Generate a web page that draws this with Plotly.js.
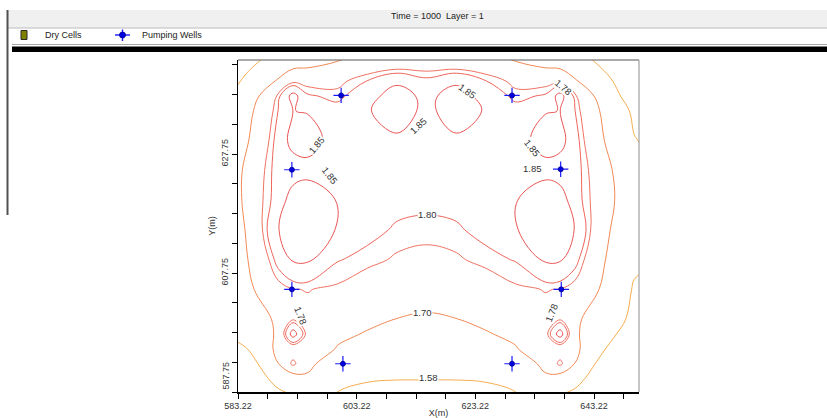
<!DOCTYPE html>
<html>
<head>
<meta charset="utf-8">
<script src="https://cdn.plot.ly/plotly-3.0.1.min.js"></script>
<style>
  html, body { margin: 0; padding: 0; background: #ffffff; }
  #chart { width: 827px; height: 418px; }
</style>
</head>
<body>
<div id="chart"></div>
<script>
// ---------------- data ----------------
const chartTitle = "Time = 1000  Layer = 1";
const legendLabels = ["Dry Cells", "Pumping Wells"];

// grid node coordinates (m)
const xNodes = [580, 585, 590, 592.5, 595, 600, 605, 610, 615, 620, 625, 630, 635, 637.5, 640, 645, 650, 655];
const yNodes = [585, 590, 592.5, 595, 597.5, 600, 605, 610, 615, 620, 625, 630, 635, 637.5, 640, 645];

// head values, one row per y node (south to north)
const head585  = [1.42, 1.46, 1.50, 1.53, 1.60, 1.555, 1.545, 1.54, 1.54, 1.54, 1.545, 1.555, 1.60, 1.53, 1.50, 1.46, 1.42, 1.40];
const head590  = [1.46, 1.50, 1.62, 1.65, 1.69, 1.60, 1.585, 1.582, 1.582, 1.582, 1.585, 1.60, 1.69, 1.65, 1.62, 1.50, 1.46, 1.43];
const head5925 = [1.50, 1.525, 1.698, 1.795, 1.715, 1.66, 1.625, 1.62, 1.615, 1.62, 1.625, 1.66, 1.715, 1.795, 1.698, 1.525, 1.50, 1.47];
const head595  = [1.55, 1.582, 1.725, 1.74, 1.75, 1.695, 1.665, 1.655, 1.65, 1.655, 1.665, 1.695, 1.75, 1.74, 1.725, 1.582, 1.54, 1.50];
const head5975 = [1.575, 1.59, 1.72, 1.88, 1.76, 1.715, 1.695, 1.68, 1.675, 1.68, 1.695, 1.715, 1.76, 1.88, 1.72, 1.59, 1.565, 1.52];
const head600  = [1.57, 1.60, 1.73, 1.775, 1.772, 1.74, 1.715, 1.699, 1.69, 1.699, 1.715, 1.74, 1.772, 1.775, 1.73, 1.60, 1.572, 1.53];
const head605  = [1.56, 1.685, 1.765, 1.779, 1.781, 1.775, 1.753, 1.74, 1.735, 1.74, 1.753, 1.775, 1.781, 1.779, 1.765, 1.685, 1.57, 1.55];
const head610  = [1.55, 1.703, 1.815, 1.856, 1.858, 1.802, 1.791, 1.775, 1.77, 1.775, 1.791, 1.802, 1.858, 1.856, 1.815, 1.703, 1.60, 1.575];
const head615  = [1.555, 1.72, 1.848, 1.885, 1.88, 1.847, 1.81, 1.796, 1.79, 1.796, 1.81, 1.847, 1.88, 1.885, 1.848, 1.72, 1.615, 1.585];
const head620  = [1.55, 1.744, 1.818, 1.88, 1.875, 1.848, 1.82, 1.81, 1.81, 1.81, 1.82, 1.848, 1.875, 1.88, 1.818, 1.744, 1.615, 1.585];
const head625  = [1.57, 1.735, 1.818, 1.82, 1.838, 1.832, 1.835, 1.83, 1.83, 1.83, 1.835, 1.832, 1.838, 1.82, 1.818, 1.735, 1.60, 1.57];
const head630  = [1.56, 1.699, 1.817, 1.87, 1.865, 1.835, 1.845, 1.84, 1.835, 1.84, 1.845, 1.835, 1.865, 1.87, 1.817, 1.699, 1.585, 1.545];
const head635  = [1.56, 1.68, 1.801, 1.8505, 1.848, 1.815, 1.845, 1.88, 1.835, 1.88, 1.845, 1.815, 1.848, 1.8505, 1.801, 1.68, 1.56, 1.52];
const head6375 = [1.53, 1.65, 1.79, 1.87, 1.805, 1.79, 1.83, 1.875, 1.835, 1.875, 1.83, 1.79, 1.805, 1.87, 1.79, 1.65, 1.52, 1.48];
const head640  = [1.50, 1.61, 1.71, 1.77, 1.765, 1.77, 1.801, 1.84, 1.81, 1.84, 1.801, 1.77, 1.765, 1.77, 1.71, 1.61, 1.50, 1.45];
const head645  = [1.45, 1.52, 1.60, 1.60, 1.62, 1.665, 1.71, 1.69, 1.72, 1.69, 1.71, 1.665, 1.62, 1.60, 1.60, 1.52, 1.45, 1.40];

// contour levels drawn
const contourLevels = [1.58, 1.70, 1.78, 1.80, 1.85];

// pumping wells
const wellX = [600.6, 629.4, 592.3, 637.6, 592.3, 637.7, 600.9, 629.4];
const wellY = [637.6, 637.6, 625.1, 625.2, 605.0, 605.0, 592.5, 592.5];

// axis ticks
const xTickVals = [583.22, 603.22, 623.22, 643.22];
const yTickVals = [587.75, 607.75, 627.75];
const xRange = [583.22, 650.8];
const yRange = [587.75, 643.55];

// ---------------- styles ----------------
const levelColors = ["#f6ae4e", "#f18a55", "#ef7262", "#ed655b", "#eb5555"];
const FONT = "Liberation Sans, Arial, sans-serif";

const headGrid = [head585, head590, head5925, head595, head5975, head600, head605, head610,
                  head615, head620, head625, head630, head635, head6375, head640, head645];

const traces = contourLevels.map((lv, i) => ({
  type: "contour",
  x: xNodes,
  y: yNodes,
  z: headGrid,
  autocontour: false,
  contours: { start: lv, end: lv, size: 0.01, coloring: "none", showlabels: false },
  line: { color: levelColors[i], width: 1, smoothing: 1.1 },
  showscale: false,
  showlegend: false,
  hoverinfo: "skip"
}));

traces.push({
  type: "scatter", mode: "markers", x: wellX, y: wellY,
  marker: { symbol: "cross-thin-open", size: 11, color: "#1a1aff", line: { color: "#1a1aff", width: 1.2 } },
  showlegend: false, hoverinfo: "skip"
});
traces.push({
  type: "scatter", mode: "markers", x: wellX, y: wellY,
  marker: { symbol: "circle", size: 5, color: "#0000e0", line: { color: "#000090", width: 0.8 } },
  showlegend: false, hoverinfo: "skip"
});

// pixel -> paper / data helpers for page furniture and label placement
const PL = 238, PR = 639, PT = 60, PB = 392;
const fx = px => (px - PL) / (PR - PL);
const fy = py => (PB - py) / (PB - PT);
const dx = px => xRange[0] + (px - PL) / (PR - PL) * (xRange[1] - xRange[0]);
const dy = py => yRange[0] + (PB - py) / (PB - PT) * (yRange[1] - yRange[0]);

const shapes = [
  { type: "rect", xref: "paper", yref: "paper", x0: fx(8), x1: fx(827), y0: fy(28), y1: fy(10),
    fillcolor: "#f0f0f0", line: { width: 0 }, layer: "below" },
  { type: "line", xref: "paper", yref: "paper", x0: fx(8), x1: fx(827), y0: fy(28), y1: fy(28),
    line: { color: "#bcbcbc", width: 1.2 } },
  { type: "line", xref: "paper", yref: "paper", x0: fx(12), x1: fx(827), y0: fy(44.5), y1: fy(44.5),
    line: { color: "#a8a8a8", width: 1.2 } },
  { type: "rect", xref: "paper", yref: "paper", x0: fx(12), x1: fx(827), y0: fy(52), y1: fy(46.5),
    fillcolor: "#000000", line: { width: 0 } },
  { type: "line", xref: "paper", yref: "paper", x0: fx(7.5), x1: fx(7.5), y0: fy(10), y1: fy(215),
    line: { color: "#505050", width: 2 } },
  { type: "rect", xref: "paper", yref: "paper", x0: fx(21), x1: fx(27), y0: fy(39.5), y1: fy(30.5),
    fillcolor: "#7f7f00", line: { color: "#2a2a2a", width: 1 } },
  { type: "line", xref: "paper", yref: "paper", x0: fx(115), x1: fx(130), y0: fy(35), y1: fy(35),
    line: { color: "#1a1aff", width: 1.4 } },
  { type: "line", xref: "paper", yref: "paper", x0: fx(122.5), x1: fx(122.5), y0: fy(29.5), y1: fy(41),
    line: { color: "#1a1aff", width: 1.4 } },
  { type: "circle", xref: "paper", yref: "paper", x0: fx(119.5), x1: fx(125.5), y0: fy(38), y1: fy(32),
    fillcolor: "#0000e0", line: { color: "#000090", width: 0.8 } },
  { type: "line", xref: "paper", yref: "paper", x0: 0, x1: 1, y0: 1, y1: 1, line: { color: "#555555", width: 1.2 } },
  { type: "line", xref: "paper", yref: "paper", x0: 1, x1: 1, y0: 0, y1: 1, line: { color: "#a0a0a0", width: 1.2 } }
];

// contour label spots: level index, pixel position, text angle
const labelSpots = [
  [4, 418.7, 125.7, -42], [4, 467.7, 91.3, 35], [4, 316, 145, -50], [4, 330, 175, 52],
  [4, 532.7, 148, 52], [4, 532.7, 168, 0], [3, 427.7, 214, 0], [2, 563.7, 87.3, 40],
  [2, 301, 315, 68], [2, 551, 313, -68], [1, 422.7, 312.3, 0], [0, 428, 377.8, 0]
];

const annotations = [
  { xref: "paper", yref: "paper", x: fx(437.5), y: fy(15.5), text: chartTitle, showarrow: false,
    xanchor: "center", yanchor: "middle", font: { family: FONT, size: 9, color: "#222" } },
  { xref: "paper", yref: "paper", x: fx(43), y: fy(35), text: legendLabels[0], showarrow: false,
    xanchor: "left", yanchor: "middle", font: { family: FONT, size: 9, color: "#222" } },
  { xref: "paper", yref: "paper", x: fx(140), y: fy(35), text: legendLabels[1], showarrow: false,
    xanchor: "left", yanchor: "middle", font: { family: FONT, size: 9, color: "#222" } },
  { xref: "paper", yref: "y", x: fx(225.5), y: yTickVals[0], yshift: 16, text: yTickVals[0].toFixed(2),
    textangle: -90, showarrow: false, xanchor: "center", yanchor: "middle",
    font: { family: FONT, size: 9, color: "#333" } }
].concat(labelSpots.map(s => ({
  xref: "x", yref: "y", x: dx(s[1]), y: dy(s[2]), text: contourLevels[s[0]].toFixed(2),
  textangle: s[3], showarrow: false, xanchor: "center", yanchor: "middle",
  bgcolor: "#ffffff", borderpad: 0,
  font: { family: FONT, size: 9.5, color: "#333333" }
})));

const axisCommon = {
  showgrid: false, zeroline: false, showline: true, linecolor: "#000000", linewidth: 1.5,
  ticks: "outside", ticklen: 5, tickwidth: 1, tickcolor: "#000000",
  tickfont: { family: FONT, size: 9, color: "#333333" },
  tickformat: ".2f", fixedrange: true
};

const layout = {
  width: 827, height: 418, autosize: false,
  margin: { l: PL, r: 827 - PR, t: PT, b: 418 - PB, pad: 0 },
  paper_bgcolor: "#ffffff", plot_bgcolor: "#ffffff",
  showlegend: false,
  xaxis: Object.assign({}, axisCommon, {
    range: xRange, tickmode: "array", tickvals: xTickVals,
    minor: { tick0: 583.22, dtick: 5, ticks: "outside", ticklen: 5, tickcolor: "#000000", showgrid: false },
    title: { text: "X(m)", font: { family: FONT, size: 9, color: "#333" }, standoff: 3 }
  }),
  yaxis: Object.assign({}, axisCommon, {
    range: yRange, tickmode: "array", tickvals: yTickVals,
    ticktext: yTickVals.map((v, i) => i === 0 ? "" : v.toFixed(2)), tickangle: -90,
    minor: { tick0: 587.75, dtick: 5, ticks: "outside", ticklen: 5, tickcolor: "#000000", showgrid: false },
    title: { text: "Y(m)", font: { family: FONT, size: 9, color: "#333" }, standoff: 3 }
  }),
  shapes: shapes,
  annotations: annotations
};

Plotly.newPlot("chart", traces, layout, { staticPlot: true, displayModeBar: false });
</script>
</body>
</html>
